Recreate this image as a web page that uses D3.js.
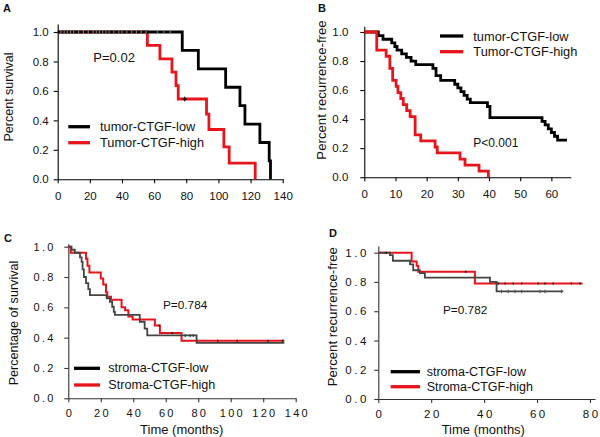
<!DOCTYPE html>
<html><head><meta charset="utf-8">
<script src="https://cdn.jsdelivr.net/npm/d3@7"></script>
<style>
body{margin:0;background:#fff}
svg{display:block}
text{font-family:"Liberation Sans",Arial,sans-serif;fill:#111}
</style>
</head><body>
<svg id="chart" width="600" height="437"></svg>
<script>
// ---------------- DATA ----------------
const yTickValues = [0, 0.2, 0.4, 0.6, 0.8, 1.0];
const xTicksA = [0, 20, 40, 60, 80, 100, 120, 140];
const xTicksB = [0, 10, 20, 30, 40, 50, 60];
const xTicksC = [0, 20, 40, 60, 80, 100, 120, 140];
const xTicksD = [0, 20, 40, 60, 80];

// Panel A: overall survival by tumor CTGF
const aLowTime  = [0, 77.5, 87.5, 104.5, 113.4, 116.5, 125.8, 131.6, 132.4];
const aLowSurv  = [1, 0.875, 0.75, 0.625, 0.5, 0.375, 0.25, 0.125, 0];
const aHighTime = [0, 55.8, 63.6, 71.1, 73.6, 75, 92.6, 94.1, 103.4, 106.7, 122.9];
const aHighSurv = [1, 0.909, 0.818, 0.727, 0.636, 0.545, 0.442, 0.338, 0.22, 0.11, 0];
const aCensorLow = [2, 4, 6, 8, 10, 13, 16, 19, 22, 24, 26, 28, 30, 32, 35, 38, 40, 43, 46, 49, 52, 55, 62, 66, 70];
const aCensorHigh = [79];

// Panel B: recurrence-free by tumor CTGF
const bLowTime  = [0, 4.5, 6, 8.8, 9.8, 10.5, 12, 13.5, 15, 16.5, 22, 23, 24.5, 29, 30, 31, 32, 33, 34, 39.5, 40.3, 57, 58, 59, 60, 61, 62];
const bLowSurv  = [1, 0.975, 0.95, 0.925, 0.9, 0.875, 0.85, 0.825, 0.8, 0.775, 0.75, 0.7, 0.667, 0.64, 0.615, 0.59, 0.564, 0.538, 0.513, 0.487, 0.41, 0.385, 0.36, 0.333, 0.308, 0.282, 0.256];
const bLowEnd = 65;
const bHighTime = [0, 4, 7, 8.2, 9.1, 10.2, 10.8, 11.7, 12.5, 13.6, 14.7, 16.3, 18.1, 22.7, 23.4, 30.7, 32.3, 36.8, 39.8];
const bHighSurv = [1, 0.875, 0.833, 0.75, 0.667, 0.625, 0.583, 0.542, 0.5, 0.458, 0.417, 0.292, 0.25, 0.208, 0.167, 0.125, 0.083, 0.042, 0];

// Panel C: survival by stroma CTGF
const cLowTime  = [0, 2, 4, 7.2, 8.2, 8.8, 9.6, 10.9, 12.3, 13.3, 23.6, 25.6, 27, 28, 28.7, 44, 47, 48.6, 79];
const cLowSurv  = [1, 0.98, 0.96, 0.93, 0.9, 0.85, 0.8, 0.76, 0.72, 0.68, 0.66, 0.637, 0.604, 0.57, 0.55, 0.505, 0.46, 0.415, 0.365];
const cLowEnd = 133;
const cHighTime = [0, 1.5, 10.9, 11.8, 13, 20, 21.5, 23.2, 24, 26.3, 32.8, 35, 37, 39.6, 53.3, 56.4, 69.7];
const cHighSurv = [1, 0.96, 0.92, 0.875, 0.83, 0.79, 0.75, 0.7, 0.67, 0.65, 0.6, 0.58, 0.54, 0.52, 0.48, 0.43, 0.38];
const cHighEnd = 133;
const cCensorHighTime = [56, 64, 92, 104, 123, 132];
const cCensorLowTime = [72, 75, 77];

// Panel D: recurrence-free by stroma CTGF
const dLowTime  = [0, 4.4, 5.5, 12, 13.2, 15.7, 17.6, 42.2, 44.7];
const dLowSurv  = [1, 0.984, 0.945, 0.92, 0.88, 0.86, 0.83, 0.8, 0.735];
const dLowEnd = 69.9;
const dHighTime = [0, 12.6, 14.5, 15.1, 36.5];
const dHighSurv = [1, 0.94, 0.91, 0.87, 0.79];
const dHighEnd = 77.2;
const dCensorHighTime = [3, 33, 45.4, 47.9, 51, 54.2, 60.4, 63, 66.1, 73, 76.2];
const dCensorLowTime = [46.6, 49.1, 51.7, 54.2, 61.1, 63, 69.3];

// ---------------- DRAW ----------------
const svg = d3.select("#chart");
const RED = "#e8141c";

function toPoints(t, s, end) {
  const pts = t.map((d, i) => [d, s[i]]);
  if (end !== undefined) pts.push([end, s[s.length - 1]]);
  return pts;
}
function stepValue(t, s, time) {
  let v = s[0];
  for (let i = 0; i < t.length; i++) if (t[i] <= time) v = s[i];
  return v;
}

function panel(p) {
  const g = svg.append("g");
  const unit = p.bottom - p.y1;
  const x = d3.scaleLinear().domain(p.xDomain).range([p.left, p.right]);
  const y = d3.scaleLinear().domain([0, p.yMax]).range([p.bottom, p.bottom - unit * p.yMax]);

  const xa = g.append("g").attr("transform", `translate(0,${p.bottom})`)
    .call(d3.axisBottom(x).tickValues(p.xTicks).tickSizeInner(4).tickSizeOuter(0)
      .tickPadding(p.xPad).tickFormat(d3.format("d")));
  const ya = g.append("g").attr("transform", `translate(${p.left},0)`)
    .call(d3.axisLeft(y).tickValues(yTickValues).tickSizeInner(4).tickSizeOuter(0)
      .tickPadding(p.yPad).tickFormat(d3.format(".1f")));
  [xa, ya].forEach(a => {
    a.selectAll("path,line").attr("stroke", p.axisColor).attr("stroke-width", 1.1);
    a.selectAll("text").attr("font-size", p.tickFont)
      .attr("fill", "#1a1a1a").attr("font-family", '"Liberation Sans",Arial,sans-serif');
    if (p.letterSpacing > 0) {
      a.selectAll("text").attr("dx", function () {
        const n = this.textContent.length;
        return [0].concat(d3.range(n - 1).map(() => p.letterSpacing)).join(" ");
      });
    }
  });

  const line = d3.line().x(d => x(d[0])).y(d => y(d[1])).curve(d3.curveStepAfter);
  p.series.forEach(s => {
    g.append("path").datum(toPoints(s.t, s.s, s.end))
      .attr("fill", "none").attr("stroke", s.color).attr("stroke-width", s.width)
      .attr("stroke-linejoin", "miter").attr("d", line);
  });
  (p.censors || []).forEach(c => {
    c.times.forEach(tm => {
      const v = stepValue(c.t, c.s, tm);
      g.append("line").attr("x1", x(tm)).attr("x2", x(tm))
        .attr("y1", y(v) - c.h).attr("y2", y(v) + c.h)
        .attr("stroke", c.color).attr("stroke-width", c.w);
      if (c.cross) g.append("line").attr("x1", x(tm) - c.h).attr("x2", x(tm) + c.h)
        .attr("y1", y(v)).attr("y2", y(v)).attr("stroke", c.color).attr("stroke-width", c.w);
    });
  });

  g.append("text").attr("transform", `translate(${p.yLabelX},${p.yLabelY}) rotate(-90)`)
    .attr("text-anchor", "middle").attr("dominant-baseline", "central")
    .attr("font-size", p.yLabelFont).text(p.yLabel);
  if (p.xLabel) g.append("text").attr("x", p.xLabelX).attr("y", p.xLabelY)
    .attr("text-anchor", "middle").attr("dominant-baseline", "central")
    .attr("font-size", 13).text(p.xLabel);

  g.append("text").attr("x", p.letterX).attr("y", p.letterY).attr("font-size", 11)
    .attr("font-weight", "bold").text(p.letter);

  p.legend.forEach((l, i) => {
    const ly = p.legY + i * p.legGap;
    g.append("line").attr("x1", p.legX1).attr("x2", p.legX2).attr("y1", ly).attr("y2", ly)
      .attr("stroke", l.color).attr("stroke-width", 3.3);
    g.append("text").attr("x", p.legTextX).attr("y", ly).attr("dominant-baseline", "central")
      .attr("font-size", p.legFont).text(l.label);
  });
  g.append("text").attr("x", p.pX).attr("y", p.pY).attr("dominant-baseline", "central")
    .attr("font-size", p.pFont).text(p.pText);
}

// Panel A
panel({
  letter: "A", letterX: 3, letterY: 12,
  left: 57.7, right: 282.7, xDomain: [0, 140], xTicks: xTicksA,
  bottom: 179.3, y1: 32, yMax: 1.054, xPad: 9, yPad: 5,
  axisColor: "#000", tickFont: 11.5, letterSpacing: 0,
  yLabel: "Percent survival", yLabelX: 9, yLabelY: 97, yLabelFont: 12.5,
  series: [
    { t: aHighTime, s: aHighSurv, color: RED, width: 2.8 },
    { t: aLowTime, s: aLowSurv, color: "#000", width: 2.8 }
  ],
  censors: [
    { t: aLowTime, s: aLowSurv, times: aCensorLow, color: "#777", w: 1.2, h: 1.6 },
    { t: aHighTime, s: aHighSurv, times: aCensorHigh, color: "#000", w: 1.2, h: 2.2, cross: true }
  ],
  legend: [{ label: "tumor-CTGF-low", color: "#000" }, { label: "Tumor-CTGF-high", color: RED }],
  legX1: 68.3, legX2: 90, legTextX: 100, legY: 126.7, legGap: 16, legFont: 12.8,
  pText: "P=0.02", pX: 93.3, pY: 57, pFont: 13
});

// Panel B
panel({
  letter: "B", letterX: 318, letterY: 12,
  left: 364.3, right: 570.7, xDomain: [0, 66.2], xTicks: xTicksB,
  bottom: 177.2, y1: 32, yMax: 1.04, xPad: 9, yPad: 12,
  axisColor: "#000", tickFont: 11.5, letterSpacing: 0,
  yLabel: "Percent recurrence-free", yLabelX: 321, yLabelY: 90, yLabelFont: 13.2,
  series: [
    { t: bLowTime, s: bLowSurv, end: bLowEnd, color: "#000", width: 2.8 },
    { t: bHighTime, s: bHighSurv, color: RED, width: 2.8 }
  ],
  legend: [{ label: "tumor-CTGF-low", color: "#000" }, { label: "Tumor-CTGF-high", color: RED }],
  legX1: 440, legX2: 463.3, legTextX: 473.3, legY: 36, legGap: 15.7, legFont: 12.8,
  pText: "P<0.001", pX: 473.3, pY: 143, pFont: 12
});

// Panel C
panel({
  letter: "C", letterX: 4, letterY: 242,
  left: 68.3, right: 295.7, xDomain: [0, 140], xTicks: xTicksC,
  bottom: 398.3, y1: 246.7, yMax: 1.02, xPad: 7, yPad: 11,
  axisColor: "#333", tickFont: 11, letterSpacing: 2.2,
  yLabel: "Percentage of  survival", yLabelX: 13.5, yLabelY: 323, yLabelFont: 12.6,
  xLabel: "Time (months)", xLabelX: 181.7, xLabelY: 429,
  series: [
    { t: cHighTime, s: cHighSurv, end: cHighEnd, color: RED, width: 2 },
    { t: cLowTime, s: cLowSurv, end: cLowEnd, color: "#444", width: 1.8 }
  ],
  censors: [
    { t: cHighTime, s: cHighSurv, times: cCensorHighTime, color: "#111", w: 1.5, h: 1 },
    { t: cLowTime, s: cLowSurv, times: cCensorLowTime, color: "#444", w: 1.2, h: 1.5 }
  ],
  legend: [{ label: "stroma-CTGF-low", color: "#000" }, { label: "Stroma-CTGF-high", color: RED }],
  legX1: 74, legX2: 100, legTextX: 108.3, legY: 368.3, legGap: 16.7, legFont: 12.6,
  pText: "P=0.784", pX: 163, pY: 305, pFont: 11.8
});

// Panel D
panel({
  letter: "D", letterX: 329, letterY: 237,
  left: 378.3, right: 595, xDomain: [0, 81.9], xTicks: xTicksD,
  bottom: 399, y1: 252.7, yMax: 1.046, xPad: 7, yPad: 8,
  axisColor: "#333", tickFont: 11.5, letterSpacing: 2.5,
  yLabel: "Percent recurrence-free", yLabelX: 332, yLabelY: 316.7, yLabelFont: 13.2,
  xLabel: "Time (months)", xLabelX: 483.3, xLabelY: 429,
  series: [
    { t: dHighTime, s: dHighSurv, end: dHighEnd, color: RED, width: 2 },
    { t: dLowTime, s: dLowSurv, end: dLowEnd, color: "#444", width: 1.8 }
  ],
  censors: [
    { t: dHighTime, s: dHighSurv, times: dCensorHighTime, color: "#111", w: 1.5, h: 1 },
    { t: dLowTime, s: dLowSurv, times: dCensorLowTime, color: "#555", w: 1, h: 1.8 }
  ],
  legend: [{ label: "stroma-CTGF-low", color: "#000" }, { label: "Stroma-CTGF-high", color: RED }],
  legX1: 390.7, legX2: 420, legTextX: 426.7, legY: 371.7, legGap: 15, legFont: 12.5,
  pText: "P=0.782", pX: 443, pY: 310, pFont: 11.8
});
</script>
</body></html>
